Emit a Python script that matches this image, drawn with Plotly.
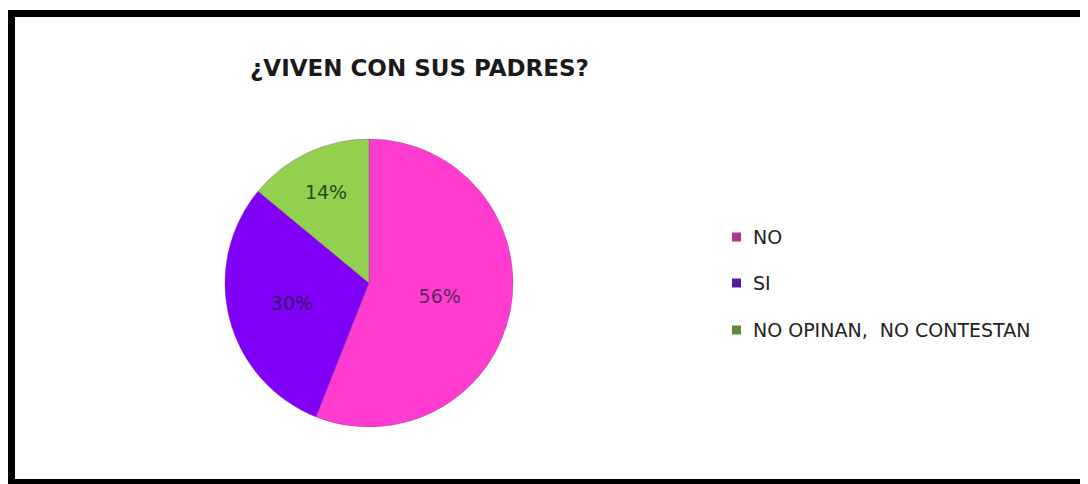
import plotly.graph_objects as go

title_text = "¿VIVEN CON SUS PADRES?"
categories = ["NO", "SI", "NO OPINAN,  NO CONTESTAN"]
values = [56, 30, 14]
slice_colors = ["#FF3CCF", "#8000F8", "#92D050"]
legend_colors = ["#B0358E", "#5A1A9E", "#5F8C3A"]
label_colors = ["#5A2A55", "#3C1070", "#2C4A1C"]

# the page body adds an 8px offset, so the figure is drawn 8px smaller
W, H = 1080, 476
fig = go.Figure()

cx, cy, r = 361, 275, 144
fig.add_trace(go.Pie(
    labels=categories,
    values=values,
    sort=False,
    direction="clockwise",
    rotation=0,
    marker=dict(colors=slice_colors, line=dict(color="rgba(120,60,120,0.35)", width=1)),
    texttemplate="%{percent:.0%}",
    textposition="inside",
    insidetextorientation="horizontal",
    insidetextfont=dict(family="DejaVu Sans", size=19, color=label_colors),
    hoverinfo="label+percent",
    showlegend=False,
    domain=dict(x=[(cx - r) / W, (cx + r) / W], y=[(H - cy - r) / H, (H - cy + r) / H]),
))

shapes = [
    dict(type="rect", xref="paper", yref="paper", x0=0, x1=1, y0=1 - 9 / H, y1=1 - 2 / H,
         fillcolor="black", line=dict(width=0)),
    dict(type="rect", xref="paper", yref="paper", x0=0, x1=7 / W, y0=0, y1=1 - 2 / H,
         fillcolor="black", line=dict(width=0)),
    dict(type="rect", xref="paper", yref="paper", x0=0, x1=1, y0=0, y1=5 / H,
         fillcolor="black", line=dict(width=0)),
]

annotations = [dict(text=title_text, x=411 / W, y=1 - 60 / H, xref="paper", yref="paper",
                    showarrow=False, xanchor="center", yanchor="middle",
                    font=dict(family="DejaVu Sans", size=23, color="#1a1a1a", weight="bold"))]

leg_y = [229, 275, 322]
for name, col, ly in zip(categories, legend_colors, leg_y):
    shapes.append(dict(type="rect", xref="paper", yref="paper",
                       x0=724 / W, x1=733 / W, y0=1 - (ly + 4.5) / H, y1=1 - (ly - 4.5) / H,
                       fillcolor=col, line=dict(width=0)))
    annotations.append(dict(text=name, x=743 / W, y=1 - ly / H, xref="paper", yref="paper",
                            showarrow=False, xanchor="left", yanchor="middle",
                            font=dict(family="DejaVu Sans", size=19, color="#222222")))

fig.update_layout(
    width=W, height=H,
    margin=dict(l=0, r=0, t=0, b=0),
    paper_bgcolor="white", plot_bgcolor="white",
    shapes=shapes, annotations=annotations,
)

fig.write_html("out.html")
